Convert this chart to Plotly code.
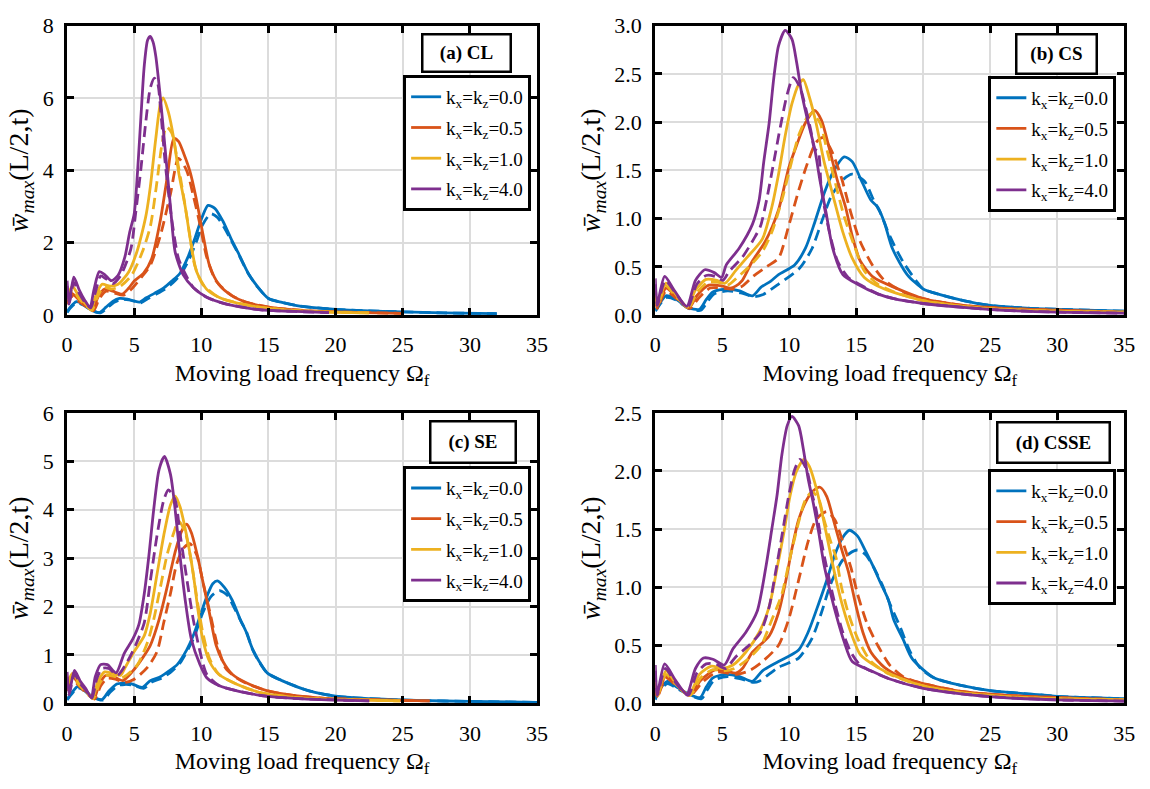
import plotly.graph_objects as go

# ---------------- DATA ----------------
# Panel (a) CL
a_k00_x = [0, 0.2, 0.7, 1.2, 1.8, 2.4, 2.9, 3.4, 3.9, 4.5, 5.0, 5.4, 5.9, 6.5, 7.2, 7.8, 8.4, 9.0, 9.5, 10.0, 10.5, 11.0, 11.6, 12.2, 12.8, 13.5, 14.2, 15.0, 16.0, 17.0, 18.0, 20.0, 22.0, 25.0, 28.0, 32.0]
a_k00_y = [0.08, 0.2, 0.37, 0.3, 0.14, 0.07, 0.22, 0.38, 0.46, 0.44, 0.39, 0.36, 0.48, 0.6, 0.75, 0.94, 1.15, 1.6, 2.1, 2.65, 3.03, 2.95, 2.6, 2.12, 1.68, 1.15, 0.78, 0.46, 0.35, 0.27, 0.22, 0.16, 0.12, 0.09, 0.06, 0.04]
a_k00d_x = [0, 0.2, 0.7, 1.2, 1.8, 2.5, 3.0, 3.5, 4.0, 4.6, 5.1, 5.5, 6.0, 6.6, 7.3, 7.9, 8.5, 9.1, 9.6, 10.1, 10.7, 11.2, 11.7, 12.2, 12.8, 13.5, 14.2, 15.0, 16.0, 17.0, 18.0, 20.0, 22.0, 25.0, 28.0, 32.0]
a_k00d_y = [0.07, 0.18, 0.34, 0.28, 0.13, 0.06, 0.2, 0.35, 0.43, 0.42, 0.37, 0.34, 0.45, 0.57, 0.72, 0.9, 1.15, 1.55, 2.0, 2.5, 2.8, 2.7, 2.42, 2.08, 1.66, 1.14, 0.77, 0.46, 0.35, 0.27, 0.22, 0.16, 0.12, 0.09, 0.06, 0.04]
a_k05_x = [0, 0.35, 0.8, 1.3, 1.9, 2.3, 2.8, 3.4, 4.1, 4.6, 5.0, 5.7, 6.3, 6.95, 7.45, 7.95, 8.3, 8.7, 9.15, 9.6, 10.1, 10.6, 11.3, 12.3, 13.3, 15.0, 16.7, 19.0, 22.0, 25.0]
a_k05_y = [0.35, 0.6, 0.45, 0.3, 0.13, 0.5, 0.72, 0.66, 0.58, 0.75, 0.94, 1.16, 1.56, 2.63, 3.79, 4.88, 4.8, 4.45, 3.97, 3.25, 2.27, 1.38, 0.85, 0.53, 0.36, 0.22, 0.15, 0.1, 0.07, 0.05]
a_k05d_x = [0, 0.35, 0.8, 1.3, 1.95, 2.4, 2.9, 3.5, 4.2, 4.8, 5.5, 6.2, 6.95, 7.7, 8.3, 8.9, 9.4, 9.9, 10.4, 11.1, 12.3, 13.3, 15.0, 16.7, 19.0, 22.0, 25.0]
a_k05d_y = [0.3, 0.52, 0.4, 0.27, 0.12, 0.45, 0.66, 0.61, 0.55, 0.72, 1.03, 1.38, 2.2, 3.35, 4.33, 4.0, 3.3, 2.5, 1.6, 0.94, 0.53, 0.36, 0.22, 0.15, 0.1, 0.07, 0.05]
a_k10_x = [0, 0.4, 0.9, 1.4, 1.8, 2.1, 2.6, 3.2, 3.8, 4.6, 5.2, 5.6, 5.9, 6.2, 6.6, 6.95, 7.15, 7.55, 7.95, 8.3, 8.8, 9.25, 9.65, 10.4, 11.3, 12.6, 14.3, 16.7, 19.0, 22.5]
a_k10_y = [0.5, 0.8, 0.5, 0.3, 0.15, 0.5, 0.85, 0.8, 0.85, 1.2, 1.75, 2.3, 2.8, 3.55, 4.86, 5.84, 6.0, 5.6, 4.86, 3.97, 2.99, 1.92, 1.2, 0.71, 0.49, 0.34, 0.22, 0.13, 0.09, 0.06]
a_k10d_x = [0, 0.4, 0.9, 1.4, 1.85, 2.2, 2.7, 3.3, 3.9, 4.8, 5.6, 6.2, 6.7, 7.05, 7.4, 7.8, 8.2, 8.65, 9.15, 9.5, 10.1, 11.3, 12.6, 14.3, 16.7, 19.0, 22.5]
a_k10d_y = [0.42, 0.7, 0.45, 0.27, 0.13, 0.45, 0.77, 0.72, 0.78, 1.1, 1.74, 2.45, 3.7, 4.68, 5.2, 5.03, 4.3, 3.34, 2.18, 1.38, 0.85, 0.49, 0.34, 0.22, 0.13, 0.09, 0.06]
a_k40_x = [0, 0.15, 0.5, 0.9, 1.3, 1.7, 2.0, 2.4, 2.8, 3.3, 3.8, 4.3, 4.65, 5.0, 5.25, 5.5, 5.75, 6.0, 6.2, 6.4, 6.6, 6.95, 7.3, 7.7, 8.05, 8.65, 9.4, 10.4, 11.8, 14.3, 17.0, 19.5]
a_k40_y = [0.95, 0.35, 1.05, 0.7, 0.42, 0.22, 0.7, 1.2, 1.12, 0.95, 1.1, 1.6, 2.27, 2.8, 3.97, 5.48, 6.9, 7.6, 7.7, 7.55, 7.17, 6.0, 4.6, 2.99, 1.74, 1.11, 0.76, 0.49, 0.31, 0.15, 0.1, 0.07]
a_k40d_x = [0, 0.15, 0.5, 0.9, 1.3, 1.75, 2.1, 2.5, 2.9, 3.4, 4.0, 4.75, 5.1, 5.5, 5.85, 6.2, 6.5, 6.75, 6.95, 7.3, 7.8, 8.3, 8.9, 9.4, 10.4, 11.8, 14.3, 17.0, 19.5]
a_k40d_y = [0.8, 0.3, 0.9, 0.6, 0.37, 0.2, 0.62, 1.08, 1.0, 0.87, 1.1, 1.83, 2.8, 4.05, 5.3, 6.28, 6.55, 6.4, 5.75, 4.23, 2.63, 1.56, 1.07, 0.76, 0.49, 0.31, 0.15, 0.1, 0.07]

# Panel (b) CS
b_k00_x = [0, 0.15, 0.8, 1.5, 2.4, 3.3, 3.8, 4.3, 5.3, 6.3, 7.25, 7.9, 8.6, 9.2, 10.4, 11.2, 11.9, 12.6, 13.3, 14.1, 14.7, 15.3, 16.1, 16.6, 17.1, 17.7, 18.8, 20.0, 20.8, 23.0, 25.0, 28.0, 30.0, 35.0]
b_k00_y = [0.05, 0.08, 0.2, 0.17, 0.08, 0.06, 0.16, 0.24, 0.27, 0.25, 0.2, 0.29, 0.35, 0.42, 0.52, 0.69, 0.96, 1.26, 1.49, 1.64, 1.59, 1.42, 1.19, 1.12, 0.96, 0.69, 0.42, 0.27, 0.23, 0.15, 0.1, 0.07, 0.06, 0.04]
b_k00d_x = [0, 0.15, 0.8, 1.5, 2.5, 3.4, 3.9, 4.4, 5.4, 6.4, 7.35, 8.0, 9.2, 10.8, 11.7, 12.4, 13.1, 13.9, 14.7, 15.6, 16.3, 16.8, 17.5, 18.5, 19.5, 20.0, 20.8, 23.0, 25.0, 28.0, 30.0, 35.0]
b_k00d_y = [0.04, 0.07, 0.18, 0.16, 0.07, 0.05, 0.14, 0.22, 0.25, 0.23, 0.19, 0.21, 0.32, 0.49, 0.69, 0.96, 1.22, 1.39, 1.46, 1.39, 1.19, 1.06, 0.82, 0.55, 0.35, 0.27, 0.23, 0.15, 0.1, 0.07, 0.06, 0.04]
b_k05_x = [0, 0.15, 0.8, 1.5, 2.5, 3.1, 4.0, 5.0, 5.6, 6.0, 6.5, 7.25, 8.2, 9.2, 9.95, 10.55, 11.2, 11.9, 12.4, 13.0, 13.6, 14.2, 14.7, 15.3, 16.3, 17.8, 20.0, 23.0, 26.0, 30.0, 35.0]
b_k05_y = [0.2, 0.08, 0.28, 0.2, 0.07, 0.2, 0.31, 0.3, 0.28, 0.3, 0.36, 0.56, 0.76, 1.09, 1.52, 1.76, 1.99, 2.12, 2.02, 1.72, 1.39, 1.12, 0.82, 0.56, 0.39, 0.29, 0.17, 0.1, 0.07, 0.05, 0.03]
b_k05d_x = [0, 0.15, 0.8, 1.5, 2.6, 3.2, 4.1, 5.1, 5.8, 6.5, 7.3, 8.3, 9.2, 9.95, 10.7, 11.4, 12.0, 12.5, 13.1, 13.9, 14.6, 15.3, 16.2, 17.1, 18.5, 20.0, 23.0, 26.0, 30.0, 35.0]
b_k05d_y = [0.17, 0.07, 0.25, 0.18, 0.07, 0.17, 0.28, 0.28, 0.27, 0.3, 0.4, 0.5, 0.59, 0.92, 1.29, 1.59, 1.79, 1.84, 1.72, 1.42, 1.06, 0.76, 0.52, 0.36, 0.24, 0.17, 0.1, 0.07, 0.05, 0.03]
b_k10_x = [0, 0.15, 0.8, 1.5, 2.4, 3.0, 3.8, 4.6, 5.2, 6.0, 6.8, 8.0, 8.7, 9.2, 9.7, 10.2, 10.7, 11.05, 11.5, 12.0, 12.6, 13.3, 14.0, 14.7, 15.6, 17.1, 20.0, 23.0, 26.0, 30.0, 35.0]
b_k10_y = [0.25, 0.1, 0.33, 0.22, 0.08, 0.26, 0.37, 0.36, 0.33, 0.46, 0.59, 0.79, 1.12, 1.46, 1.86, 2.19, 2.39, 2.44, 2.26, 1.99, 1.59, 1.22, 0.86, 0.59, 0.39, 0.27, 0.15, 0.09, 0.06, 0.04, 0.03]
b_k10d_x = [0, 0.15, 0.8, 1.5, 2.5, 3.1, 3.9, 4.7, 5.4, 6.2, 7.0, 8.0, 8.7, 9.45, 10.05, 10.7, 11.3, 11.7, 12.3, 12.8, 13.4, 14.1, 14.85, 15.6, 16.6, 18.0, 20.0, 23.0, 26.0, 30.0, 35.0]
b_k10d_y = [0.22, 0.09, 0.3, 0.2, 0.08, 0.23, 0.34, 0.34, 0.31, 0.4, 0.5, 0.66, 0.86, 1.19, 1.52, 1.86, 2.04, 2.09, 1.99, 1.72, 1.39, 1.02, 0.72, 0.46, 0.32, 0.23, 0.15, 0.09, 0.06, 0.04, 0.03]
b_k40_x = [0, 0.15, 0.7, 1.4, 2.35, 3.0, 3.7, 4.4, 4.95, 5.3, 6.25, 7.25, 7.75, 8.1, 8.5, 8.85, 9.2, 9.7, 10.2, 10.55, 10.9, 11.3, 11.9, 12.3, 12.75, 13.25, 14.0, 15.1, 16.6, 17.8, 20.0, 23.0, 26.0, 30.0, 35.0]
b_k40_y = [0.38, 0.12, 0.4, 0.26, 0.09, 0.36, 0.47, 0.44, 0.39, 0.52, 0.69, 0.94, 1.19, 1.59, 1.99, 2.46, 2.79, 2.95, 2.86, 2.62, 2.32, 2.06, 1.72, 1.39, 1.06, 0.69, 0.42, 0.32, 0.22, 0.17, 0.12, 0.08, 0.05, 0.03, 0.02]
b_k40d_x = [0, 0.15, 0.75, 1.45, 2.4, 3.1, 3.8, 4.5, 5.05, 5.5, 6.5, 7.4, 7.85, 8.35, 8.85, 9.35, 9.85, 10.3, 10.8, 11.2, 11.6, 11.9, 12.15, 12.4, 13.0, 13.6, 14.4, 15.5, 16.6, 17.8, 20.0, 23.0, 26.0, 30.0, 35.0]
b_k40d_y = [0.32, 0.1, 0.36, 0.24, 0.08, 0.32, 0.41, 0.4, 0.36, 0.45, 0.6, 0.8, 0.92, 1.22, 1.59, 1.96, 2.29, 2.46, 2.36, 2.16, 1.92, 1.72, 1.7, 1.3, 0.86, 0.56, 0.39, 0.3, 0.22, 0.17, 0.12, 0.08, 0.05, 0.03, 0.02]

# Panel (c) SE
c_k00_x = [0, 0.3, 0.8, 1.3, 1.8, 2.6, 3.1, 3.7, 4.2, 4.75, 5.6, 6.2, 6.95, 7.6, 8.2, 8.9, 9.4, 9.9, 10.4, 10.85, 11.2, 11.7, 12.3, 12.9, 13.3, 13.8, 14.3, 14.9, 16.0, 17.9, 20.0, 23.0, 26.0, 30.0, 35.0]
c_k00_y = [0.08, 0.2, 0.35, 0.28, 0.15, 0.08, 0.25, 0.4, 0.42, 0.41, 0.33, 0.47, 0.55, 0.67, 0.8, 1.1, 1.4, 1.8, 2.2, 2.47, 2.53, 2.4, 2.13, 1.73, 1.5, 1.13, 0.87, 0.63, 0.47, 0.27, 0.15, 0.09, 0.06, 0.04, 0.02]
c_k00d_x = [0, 0.3, 0.8, 1.3, 1.8, 2.7, 3.2, 3.8, 4.3, 4.85, 5.7, 6.3, 7.05, 7.7, 8.4, 9.4, 10.1, 10.7, 11.35, 11.95, 12.4, 13.0, 13.4, 13.8, 14.3, 14.9, 16.0, 17.9, 20.0, 23.0, 26.0, 30.0, 35.0]
c_k00d_y = [0.07, 0.18, 0.32, 0.26, 0.14, 0.07, 0.23, 0.37, 0.39, 0.38, 0.31, 0.44, 0.52, 0.64, 0.83, 1.33, 1.87, 2.2, 2.33, 2.23, 2.0, 1.67, 1.45, 1.12, 0.86, 0.63, 0.47, 0.27, 0.15, 0.09, 0.06, 0.04, 0.02]
c_k05_x = [0, 0.4, 0.9, 1.4, 2.0, 2.4, 2.9, 3.5, 4.15, 4.9, 5.6, 6.2, 6.85, 7.45, 8.05, 8.55, 8.9, 9.25, 9.75, 10.1, 10.6, 11.1, 11.6, 12.3, 13.3, 14.8, 16.7, 19.0, 22.0, 25.0, 27.0]
c_k05_y = [0.3, 0.55, 0.4, 0.25, 0.1, 0.4, 0.58, 0.55, 0.47, 0.67, 0.93, 1.2, 1.73, 2.4, 3.13, 3.57, 3.7, 3.53, 3.0, 2.53, 1.87, 1.2, 0.87, 0.6, 0.43, 0.27, 0.17, 0.11, 0.08, 0.06, 0.05]
c_k05d_x = [0, 0.4, 0.9, 1.4, 2.05, 2.5, 3.0, 3.6, 4.25, 5.0, 6.0, 6.7, 7.2, 7.7, 8.15, 8.65, 9.15, 9.65, 10.1, 10.7, 11.2, 11.8, 12.5, 13.3, 14.8, 16.7, 19.0, 22.0, 25.0, 27.0]
c_k05d_y = [0.26, 0.48, 0.36, 0.22, 0.09, 0.36, 0.52, 0.5, 0.43, 0.5, 0.75, 1.07, 1.67, 2.27, 2.87, 3.2, 3.3, 3.07, 2.53, 1.8, 1.2, 0.73, 0.55, 0.42, 0.27, 0.17, 0.11, 0.08, 0.06, 0.05]
c_k10_x = [0, 0.4, 0.9, 1.4, 1.9, 2.3, 2.8, 3.4, 4.0, 4.3, 5.0, 5.75, 6.2, 6.7, 7.2, 7.7, 8.05, 8.4, 8.9, 9.4, 9.75, 10.1, 10.6, 11.3, 12.6, 14.3, 16.7, 19.0, 22.0, 24.8]
c_k10_y = [0.4, 0.62, 0.42, 0.27, 0.11, 0.45, 0.65, 0.62, 0.58, 0.73, 1.07, 1.4, 1.87, 2.67, 3.47, 4.1, 4.28, 4.07, 3.47, 2.67, 1.93, 1.33, 0.87, 0.6, 0.4, 0.23, 0.13, 0.09, 0.07, 0.05]
c_k10d_x = [0, 0.4, 0.9, 1.4, 1.95, 2.4, 2.9, 3.5, 4.1, 4.6, 5.25, 6.0, 6.45, 6.95, 7.45, 7.95, 8.3, 8.8, 9.25, 9.65, 10.1, 10.6, 11.3, 12.6, 14.3, 16.7, 19.0, 22.0, 24.8]
c_k10d_y = [0.35, 0.55, 0.38, 0.24, 0.1, 0.4, 0.58, 0.56, 0.53, 0.62, 0.8, 1.27, 1.73, 2.4, 3.07, 3.53, 3.77, 3.53, 2.93, 2.2, 1.47, 0.93, 0.6, 0.4, 0.23, 0.13, 0.09, 0.07, 0.05]
c_k40_x = [0, 0.15, 0.55, 1.0, 1.4, 1.8, 2.1, 2.5, 3.0, 3.65, 4.25, 4.9, 5.35, 5.75, 6.1, 6.45, 6.85, 7.25, 7.7, 8.05, 8.4, 8.8, 9.25, 9.9, 10.4, 11.3, 12.8, 14.8, 17.2, 20.0, 22.5]
c_k40_y = [0.65, 0.2, 0.68, 0.45, 0.3, 0.12, 0.55, 0.8, 0.8, 0.63, 1.03, 1.33, 1.63, 2.27, 3.07, 4.0, 4.83, 5.1, 4.73, 4.0, 3.07, 2.13, 1.33, 0.8, 0.53, 0.37, 0.25, 0.15, 0.1, 0.07, 0.05]
c_k40d_x = [0, 0.15, 0.55, 1.0, 1.4, 1.85, 2.2, 2.6, 3.1, 3.75, 4.5, 5.1, 5.75, 6.2, 6.7, 7.2, 7.55, 8.05, 8.4, 8.9, 9.4, 9.9, 10.4, 11.3, 12.8, 14.8, 17.2, 20.0, 22.5]
c_k40d_y = [0.55, 0.18, 0.6, 0.4, 0.27, 0.11, 0.5, 0.72, 0.72, 0.58, 0.87, 1.2, 1.67, 2.53, 3.47, 4.2, 4.41, 4.2, 3.53, 2.6, 1.73, 1.07, 0.6, 0.37, 0.25, 0.15, 0.1, 0.07, 0.05]

# Panel (d) CSSE
d_k00_x = [0, 0.2, 0.9, 1.6, 2.5, 3.35, 3.8, 4.3, 5.3, 6.3, 7.25, 8.0, 9.2, 10.7, 11.4, 12.2, 12.8, 13.4, 14.0, 14.5, 15.1, 15.7, 16.3, 16.8, 17.4, 17.8, 18.5, 19.2, 20.8, 23.0, 25.0, 28.0, 30.0, 35.0]
d_k00_y = [0.04, 0.1, 0.19, 0.14, 0.08, 0.05, 0.14, 0.22, 0.25, 0.23, 0.19, 0.28, 0.36, 0.46, 0.61, 0.86, 1.06, 1.28, 1.43, 1.49, 1.44, 1.31, 1.17, 1.04, 0.89, 0.72, 0.55, 0.38, 0.22, 0.15, 0.11, 0.08, 0.06, 0.04]
d_k00d_x = [0, 0.2, 0.9, 1.6, 2.6, 3.45, 3.9, 4.4, 5.4, 6.4, 7.35, 7.75, 9.2, 10.7, 11.7, 12.4, 13.1, 13.9, 14.5, 15.1, 15.7, 16.3, 16.9, 17.5, 18.3, 19.0, 19.8, 20.8, 23.0, 25.0, 28.0, 30.0, 35.0]
d_k00d_y = [0.03, 0.09, 0.17, 0.13, 0.07, 0.04, 0.12, 0.2, 0.23, 0.21, 0.18, 0.19, 0.31, 0.39, 0.56, 0.78, 1.03, 1.22, 1.29, 1.32, 1.28, 1.17, 1.03, 0.86, 0.65, 0.45, 0.3, 0.22, 0.15, 0.11, 0.08, 0.06, 0.04]
d_k05_x = [0, 0.15, 0.8, 1.5, 2.55, 3.4, 4.5, 5.3, 6.0, 6.5, 7.25, 8.5, 9.2, 9.7, 10.2, 10.7, 11.3, 11.8, 12.3, 12.8, 13.3, 13.9, 14.4, 15.0, 15.5, 16.1, 17.1, 18.5, 20.0, 23.0, 26.0, 30.0, 35.0]
d_k05_y = [0.18, 0.06, 0.24, 0.17, 0.07, 0.2, 0.29, 0.28, 0.26, 0.3, 0.44, 0.58, 0.78, 1.03, 1.33, 1.58, 1.75, 1.83, 1.86, 1.78, 1.58, 1.33, 1.14, 0.83, 0.61, 0.44, 0.31, 0.22, 0.17, 0.1, 0.07, 0.05, 0.03]
d_k05d_x = [0, 0.15, 0.8, 1.5, 2.6, 3.5, 4.6, 5.4, 6.1, 7.0, 8.0, 9.2, 9.95, 10.7, 11.4, 12.0, 12.8, 13.4, 14.0, 14.6, 15.1, 15.8, 16.6, 17.5, 18.5, 20.0, 23.0, 26.0, 30.0, 35.0]
d_k05d_y = [0.16, 0.05, 0.22, 0.16, 0.07, 0.18, 0.27, 0.26, 0.25, 0.28, 0.36, 0.5, 0.72, 1.06, 1.39, 1.58, 1.65, 1.58, 1.39, 1.17, 0.94, 0.69, 0.5, 0.33, 0.23, 0.17, 0.1, 0.07, 0.05, 0.03]
d_k10_x = [0, 0.15, 0.8, 1.5, 2.5, 3.3, 4.2, 5.0, 5.8, 6.75, 7.75, 8.5, 9.1, 9.6, 10.05, 10.55, 11.1, 11.5, 12.0, 12.5, 13.0, 13.5, 14.0, 14.6, 15.3, 16.6, 17.8, 20.0, 23.0, 26.0, 30.0, 35.0]
d_k10_y = [0.22, 0.07, 0.28, 0.18, 0.07, 0.25, 0.32, 0.3, 0.33, 0.44, 0.61, 0.83, 1.17, 1.47, 1.78, 2.0, 2.1, 2.04, 1.86, 1.61, 1.33, 1.06, 0.83, 0.61, 0.42, 0.31, 0.24, 0.15, 0.09, 0.06, 0.04, 0.03]
d_k10d_x = [0, 0.15, 0.8, 1.5, 2.6, 3.4, 4.3, 5.1, 5.9, 6.9, 7.9, 8.7, 9.45, 10.05, 10.7, 11.2, 11.7, 12.2, 12.6, 13.1, 13.5, 13.9, 14.4, 15.1, 16.1, 17.5, 20.0, 23.0, 26.0, 30.0, 35.0]
d_k10d_y = [0.2, 0.06, 0.25, 0.17, 0.07, 0.22, 0.29, 0.28, 0.3, 0.38, 0.5, 0.72, 0.94, 1.25, 1.56, 1.75, 1.82, 1.76, 1.58, 1.39, 1.25, 1.0, 0.78, 0.56, 0.36, 0.25, 0.15, 0.09, 0.06, 0.04, 0.03]
d_k40_x = [0, 0.15, 0.7, 1.5, 2.35, 3.0, 3.6, 4.3, 5.15, 5.8, 6.75, 7.6, 8.25, 8.7, 9.1, 9.45, 9.85, 10.2, 10.7, 11.05, 11.4, 11.8, 12.2, 12.6, 13.1, 13.6, 14.1, 14.7, 16.1, 17.5, 20.0, 23.0, 26.0, 30.0, 35.0]
d_k40_y = [0.33, 0.08, 0.34, 0.2, 0.08, 0.3, 0.39, 0.38, 0.33, 0.47, 0.61, 0.79, 1.17, 1.5, 1.8, 2.14, 2.39, 2.47, 2.39, 2.19, 1.94, 1.72, 1.47, 1.19, 0.94, 0.72, 0.53, 0.36, 0.28, 0.21, 0.13, 0.08, 0.05, 0.03, 0.02]
d_k40d_x = [0, 0.15, 0.75, 1.5, 2.45, 3.1, 3.8, 4.5, 5.25, 6.0, 7.0, 7.85, 8.5, 8.95, 9.45, 9.95, 10.4, 10.8, 11.3, 11.7, 12.0, 12.4, 12.9, 13.4, 14.0, 14.6, 15.3, 17.5, 20.0, 23.0, 26.0, 30.0, 35.0]
d_k40d_y = [0.28, 0.07, 0.3, 0.18, 0.07, 0.26, 0.34, 0.34, 0.3, 0.4, 0.5, 0.61, 0.83, 1.11, 1.44, 1.78, 2.01, 2.1, 2.01, 1.8, 1.67, 1.39, 1.11, 0.86, 0.61, 0.44, 0.33, 0.21, 0.13, 0.08, 0.05, 0.03, 0.02]

k_labels = ["0.0", "0.5", "1.0", "4.0"]
colors = ["#0072BD", "#D95319", "#EDB120", "#7E2F8E"]
panel_titles = ["(a) CL", "(b) CS", "(c) SE", "(d) CSSE"]
y_ranges = [[0, 8], [0, 3], [0, 6], [0, 2.5]]
y_dticks = [2, 0.5, 1, 0.5]
y_formats = ["d", ".1f", "d", ".1f"]
x_ticks = [0, 5, 10, 15, 20, 25, 30, 35]

panels = [
    [(a_k00_x, a_k00_y, a_k00d_x, a_k00d_y), (a_k05_x, a_k05_y, a_k05d_x, a_k05d_y),
     (a_k10_x, a_k10_y, a_k10d_x, a_k10d_y), (a_k40_x, a_k40_y, a_k40d_x, a_k40d_y)],
    [(b_k00_x, b_k00_y, b_k00d_x, b_k00d_y), (b_k05_x, b_k05_y, b_k05d_x, b_k05d_y),
     (b_k10_x, b_k10_y, b_k10d_x, b_k10d_y), (b_k40_x, b_k40_y, b_k40d_x, b_k40d_y)],
    [(c_k00_x, c_k00_y, c_k00d_x, c_k00d_y), (c_k05_x, c_k05_y, c_k05d_x, c_k05d_y),
     (c_k10_x, c_k10_y, c_k10d_x, c_k10d_y), (c_k40_x, c_k40_y, c_k40d_x, c_k40d_y)],
    [(d_k00_x, d_k00_y, d_k00d_x, d_k00d_y), (d_k05_x, d_k05_y, d_k05d_x, d_k05d_y),
     (d_k10_x, d_k10_y, d_k10d_x, d_k10d_y), (d_k40_x, d_k40_y, d_k40d_x, d_k40d_y)],
]

# ---------------- LAYOUT ----------------
W, H = 1150, 789
FONT = "Liberation Serif"
# plot areas in pixels: (left, right, top, bottom)
boxes = [(62, 539, 14, 313), (659, 1135, 14, 313), (62, 539, 414, 714), (659, 1135, 414, 714)]
legend_pos = [(533, 65), (1127, 66), (533, 469), (1127, 472)]
title_boxes = [(467, 42, 89, 38), (1066, 43, 81, 40), (474, 444, 86, 42), (1063, 445, 113, 41)]

fig = go.Figure()
layout = dict(width=W, height=H, margin=dict(l=0, r=0, t=0, b=0),
              paper_bgcolor="white", plot_bgcolor="white",
              font=dict(family=FONT, color="black"), annotations=[])

for p in range(4):
    sfx = "" if p == 0 else str(p + 1)
    xa, ya = "x" + sfx, "y" + sfx
    lg = "legend" + sfx
    for k in range(4):
        xs, ys, xd, yd = panels[p][k]
        fig.add_trace(go.Scatter(
            x=xs, y=ys, mode="lines", xaxis=xa, yaxis=ya,
            line=dict(color=colors[k], width=2.8, shape="spline", smoothing=0.7),
            name="k<sub>x</sub>=k<sub>z</sub>=" + k_labels[k],
            legend=lg, legendgroup="g%d_%d" % (p, k), showlegend=True))
        fig.add_trace(go.Scatter(
            x=xd, y=yd, mode="lines", xaxis=xa, yaxis=ya,
            line=dict(color=colors[k], width=2.8, dash="11px,6px", shape="spline", smoothing=0.7),
            showlegend=False, hoverinfo="skip"))

    l, r, t, b = boxes[p]
    common = dict(showline=True, linecolor="black", linewidth=3, mirror="ticks",
                  ticks="inside", ticklen=7, tickwidth=2.5, tickcolor="black",
                  showgrid=True, gridcolor="#dcdcdc", gridwidth=2.2, zeroline=False,
                  tickfont=dict(family=FONT, size=22, color="black"))
    layout["xaxis" + sfx] = dict(common, domain=[l / W, r / W], anchor=ya,
                                 range=[0, 35], tickvals=x_ticks, ticklabelstandoff=8,
                                 title=dict(text="Moving load frequency Ω<sub>f</sub>",
                                            font=dict(family=FONT, size=24, color="black"),
                                            standoff=8))
    layout["yaxis" + sfx] = dict(common, domain=[1 - b / H, 1 - t / H], anchor=xa,
                                 range=y_ranges[p], dtick=y_dticks[p], tick0=0,
                                 tickformat=y_formats[p], ticklabelstandoff=6,
                                 title=dict(text="<i>w̄</i><sub><i>max</i></sub>(L/2,t)",
                                            font=dict(family=FONT, size=28, color="black"),
                                            standoff=6))
    lx, ly = legend_pos[p]
    layout[lg] = dict(x=lx / W, y=1 - ly / H, xanchor="right", yanchor="top",
                      bgcolor="white", bordercolor="black", borderwidth=3,
                      font=dict(family=FONT, size=19, color="black"),
                      traceorder="grouped", tracegroupgap=3, itemwidth=30)
    cx, cy, bw, bh = title_boxes[p]
    layout["annotations"].append(dict(
        text="<b>" + panel_titles[p] + "</b>", xref="paper", yref="paper",
        x=cx / W, y=1 - cy / H, xanchor="center", yanchor="middle", showarrow=False,
        font=dict(family=FONT, size=19, color="black"), bgcolor="white",
        bordercolor="black", borderwidth=2.5, borderpad=1, width=bw - 5, height=bh - 5))

fig.update_layout(**layout)
fig.write_html("out.html", config={"displayModeBar": False},
               post_script="document.body.style.margin='0px';document.body.style.overflow='hidden';")
